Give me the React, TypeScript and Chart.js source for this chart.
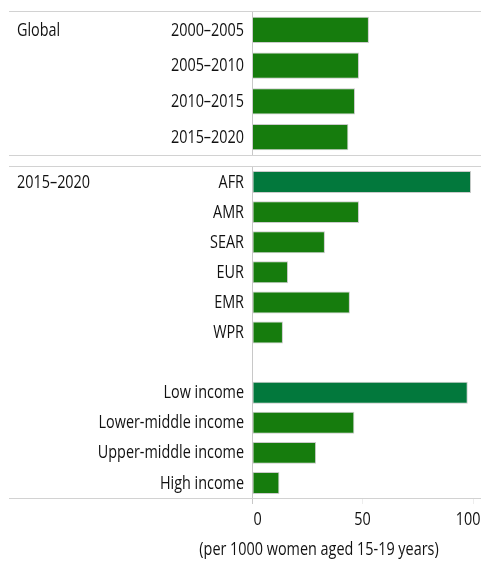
import React, { useEffect, useRef } from 'react';
import { Chart, registerables } from 'chart.js';

Chart.register(...registerables);

// ---- Data ----
const globalSectionLabel = 'Global';
const globalPeriods = ['2000–2005', '2005–2010', '2010–2015', '2015–2020'];
const globalRates = [52.9, 48.4, 46.6, 43.6];

const regionSectionLabel = '2015–2020';
const regions = ['AFR', 'AMR', 'SEAR', 'EUR', 'EMR', 'WPR'];
const regionRates = [99.1, 48.4, 33.0, 16.3, 44.3, 14.0];

const incomeGroups = ['Low income', 'Lower-middle income', 'Upper-middle income', 'High income'];
const incomeRates = [97.6, 46.3, 29.0, 12.4];

const xTickValues = [0, 50, 100];
const xMax = 103.6;
const axisTitle = '(per 1000 women aged 15-19 years)';
const highlighted = ['AFR', 'Low income'];

// ---- Styles ----
const FONT = "'Open Sans', 'Liberation Sans', sans-serif";
const FONT_SIZE = 18;
const CONDENSE = 0.8; // horizontal compression to mimic a condensed face
const TEXT = '#111111';
const GREEN = '#167c0d';
const GREEN_HI = '#02783c';
const RULE = '#d2d2d2';
const AXIS = '#c8c8c8';

const W = 481;

function drawText(
  ctx: CanvasRenderingContext2D,
  text: string,
  x: number,
  y: number,
  align: CanvasTextAlign,
  baseline: CanvasTextBaseline
) {
  ctx.save();
  ctx.translate(x, y);
  ctx.scale(CONDENSE, 1);
  ctx.font = `${FONT_SIZE}px ${FONT}`;
  ctx.fillStyle = TEXT;
  ctx.textAlign = align;
  ctx.textBaseline = baseline;
  ctx.fillText(text, 0, 0);
  ctx.restore();
}

function sectionPlugin(id: string, label: string, withAxisText: boolean) {
  return {
    id,
    afterDraw(chart: any) {
      const { ctx, chartArea } = chart;
      const y = chart.scales.y;
      const x = chart.scales.x;
      ctx.save();
      // horizontal rules across the full width
      ctx.strokeStyle = RULE;
      ctx.lineWidth = 1;
      [Math.round(chartArea.top) - 0.5, Math.round(chartArea.bottom) + 0.5].forEach((yy: number) => {
        ctx.beginPath();
        ctx.moveTo(9, yy);
        ctx.lineTo(W, yy);
        ctx.stroke();
      });
      ctx.restore();

      // category labels (from the category scale)
      const labels: string[] = y.getLabels();
      labels.forEach((l, i) => {
        if (l) drawText(ctx, l, chartArea.left - 8, y.getPixelForValue(i) + 0.5, 'right', 'middle');
      });

      // section label
      drawText(ctx, label, 17, y.getPixelForValue(0) + 0.5, 'left', 'middle');

      if (withAxisText) {
        const ticks = x.ticks;
        ticks.forEach((t: any, i: number) => {
          let px = x.getPixelForValue(t.value);
          if (i === 0) px += 5.5;
          else if (i === ticks.length - 1) px -= 5;
          drawText(ctx, String(t.value), px, chartArea.bottom + 27, 'center', 'alphabetic');
        });
        drawText(ctx, axisTitle, 319, chartArea.bottom + 57, 'center', 'alphabetic');
      }
    },
  };
}

function makeConfig(
  labels: string[],
  values: (number | null)[],
  sectionLabel: string,
  bottomAxis: boolean,
  padding: any
): any {
  return {
    type: 'bar',
    data: {
      labels,
      datasets: [
        {
          data: values,
          backgroundColor: labels.map((l) => (highlighted.includes(l) ? GREEN_HI : GREEN)),
          borderColor: '#cbcbcb',
          borderWidth: 1,
          borderSkipped: false,
          barPercentage: 0.73,
          categoryPercentage: 1,
        },
      ],
    },
    options: {
      indexAxis: 'y',
      responsive: false,
      animation: false,
      maintainAspectRatio: false,
      devicePixelRatio: 1,
      layout: { padding },
      plugins: {
        legend: { display: false },
        tooltip: { enabled: false },
      },
      scales: {
        x: {
          display: bottomAxis,
          min: 0,
          max: xMax,
          afterBuildTicks: (s: any) => {
            s.ticks = xTickValues.map((v) => ({ value: v }));
          },
          afterFit: (s: any) => {
            if (bottomAxis) s.height = 67;
            s.paddingLeft = 0;
            s.paddingRight = 0;
          },
          ticks: { display: false },
          border: { display: false },
          grid: {
            display: true,
            drawOnChartArea: false,
            drawTicks: true,
            tickLength: 6,
            color: (c: any) => (c.tick && c.tick.value === 0 ? AXIS : '#ededed'),
          },
        },
        y: {
          afterFit: (s: any) => {
            s.width = 252;
            s.paddingTop = 0;
            s.paddingBottom = 0;
          },
          grid: { display: false, drawTicks: false },
          border: { display: true, color: AXIS, width: 1 },
          ticks: { display: false, autoSkip: false },
        },
      },
    },
    plugins: [sectionPlugin('section-' + (bottomAxis ? 'lower' : 'upper'), sectionLabel, bottomAxis)],
  };
}

export default function App() {
  const topRef = useRef<HTMLCanvasElement>(null);
  const bottomRef = useRef<HTMLCanvasElement>(null);

  useEffect(() => {
    const c1 = new Chart(
      topRef.current as HTMLCanvasElement,
      makeConfig(globalPeriods, globalRates, globalSectionLabel, false, { top: 12, bottom: 5, left: 0, right: 0 })
    );
    const lowerLabels = [...regions, '', ...incomeGroups];
    const lowerValues = [...regionRates, null, ...incomeRates];
    const c2 = new Chart(
      bottomRef.current as HTMLCanvasElement,
      makeConfig(lowerLabels, lowerValues, regionSectionLabel, true, { top: 7, bottom: 0, left: 0, right: 0 })
    );
    return () => {
      c1.destroy();
      c2.destroy();
    };
  }, []);

  return (
    <div style={{ position: 'absolute', left: 0, top: 0, width: W, height: 565, background: '#fff' }}>
      <canvas ref={topRef} width={W} height={160} style={{ position: 'absolute', left: 0, top: 0 }} />
      <canvas ref={bottomRef} width={W} height={405} style={{ position: 'absolute', left: 0, top: 160 }} />
    </div>
  );
}
